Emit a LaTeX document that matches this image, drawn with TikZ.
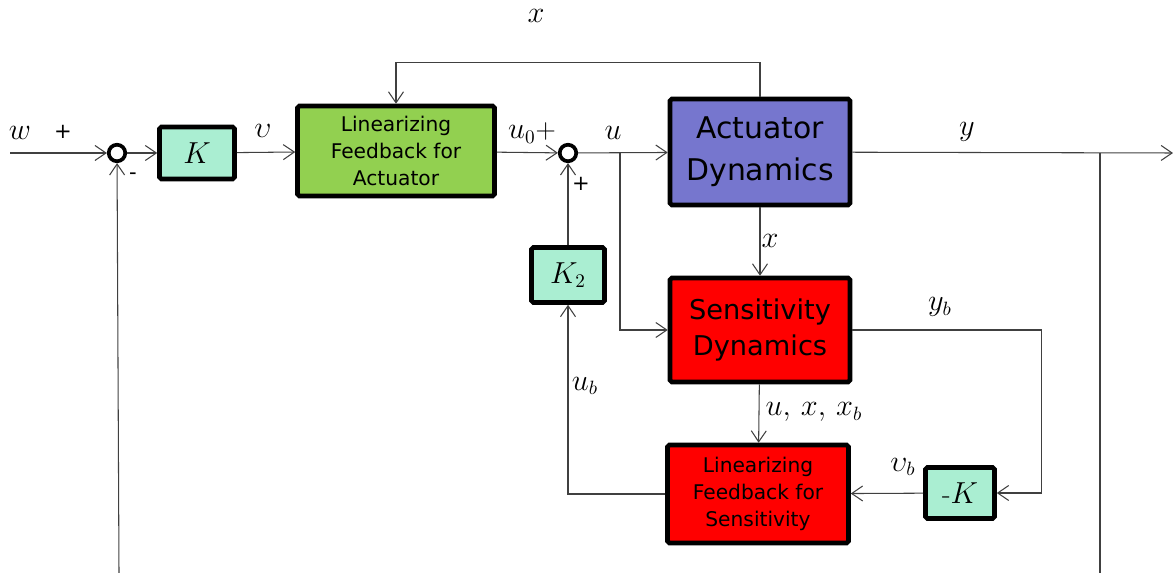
\documentclass[tikz,border=0pt]{standalone}
\usepackage{fontspec}
\setsansfont{DejaVu Sans}
\usetikzlibrary{arrows.meta}
\definecolor{gainc}{RGB}{170,238,210}
\definecolor{linc}{RGB}{146,208,80}
\definecolor{actc}{RGB}{118,118,206}
\definecolor{senc}{RGB}{255,0,0}
\begin{document}
\begin{tikzpicture}[x=0.02cm, y=-0.02cm, >={Straight Barb[length=2.2mm,width=3mm]},
  blk/.style={draw=black, line width=2.6pt, rounded corners=1pt, align=center, inner sep=0pt, font=\sffamily},
  sumj/.style={circle, draw, line width=2.1pt, minimum size=0.33cm, inner sep=0pt},
  lab/.style={font=\fontsize{16}{18}\selectfont, inner sep=1pt},
  sgn/.style={font=\sffamily\fontsize{12}{14}\selectfont, inner sep=1pt},
  wire/.style={draw=black!75, line width=0.6pt}]
  \useasboundingbox (0,0) rectangle (1173,573);
  % blocks
  \node[sumj] (s1) at (117,153) {};
  \node[blk, fill=gainc, minimum width=1.5cm, minimum height=1.04cm, font=\fontsize{16}{18}\selectfont] (k) at (197,153) {$K$};
  \node[blk, fill=linc, minimum width=3.94cm, minimum height=1.8cm, font=\sffamily\fontsize{11.5}{15.3}\selectfont] (lfa) at (396,151) {Linearizing\\Feedback for\\Actuator};
  \node[sumj] (s2) at (568,153) {};
  \node[blk, fill=actc, minimum width=3.6cm, minimum height=2.12cm, font=\sffamily\fontsize{17}{23.8}\selectfont] (act) at (760,152) {Actuator\\Dynamics};
  \node[blk, fill=senc, minimum width=3.6cm, minimum height=2.08cm, font=\sffamily\fontsize{15.5}{21}\selectfont] (sens) at (760,330) {Sensitivity\\Dynamics};
  \node[blk, fill=gainc, minimum width=1.46cm, minimum height=1.1cm, font=\fontsize{16}{18}\selectfont] (k2) at (568,275) {$K_2$};
  \node[blk, fill=senc, minimum width=3.62cm, minimum height=1.96cm, font=\sffamily\fontsize{11.5}{15.3}\selectfont] (lfs) at (758,494) {Linearizing\\Feedback for\\Sensitivity};
  \node[blk, fill=gainc, minimum width=1.38cm, minimum height=1.02cm, font=\fontsize{16}{18}\selectfont] (nk) at (960,493) {-$K$};
  % free ends
  \coordinate (win) at (10,153);
  \coordinate (yout) at (1173,153);
  \coordinate (ytap) at (1100,153);
  \coordinate (ybot) at (1100,573);
  \coordinate (fbot) at (119,573);
  \coordinate (utap) at (620,153);
  % connectors
  \draw[wire,->] (win) -- (s1);
  \draw[wire,->] (s1) -- (k);
  \draw[wire,->] (k) -- (lfa);
  \draw[wire,->] (lfa) -- (s2);
  \draw[wire,->] (s2) -- (act);
  \draw[wire,->] (act) -- (yout);
  \draw[wire] (ytap) -- (ybot);
  \draw[wire,->] (fbot) -- (s1);
  \draw[wire,->] (act.north) -- ++(0,-34) -| (lfa.north);
  \draw[wire,->] (act) -- (sens);
  \draw[wire,->] (utap) |- (sens.west);
  \draw[wire,->] (k2) -- (s2);
  \draw[wire,->] (sens.east) -- ++(189,0) |- (nk.east);
  \draw[wire,->] (nk) -- (lfs);
  \draw[wire,->] (sens) -- (lfs);
  \draw[wire,->] (lfs.west) -| (k2.south);
  % labels
  \node[lab] at (20,133) {$w$};
  \node[sgn] at (63,132) {+};
  \node[sgn] at (133,176) {-};
  \node[lab] at (263,131) {$\upsilon$};
  \node[lab] at (532,133) {$u_0$+};
  \node[sgn] at (581,184) {+};
  \node[lab] at (613,133) {$u$};
  \node[lab] at (967,132) {$y$};
  \node[lab] at (536,16) {$x$};
  \node[lab] at (770,241) {$x$};
  \node[lab] at (940,307) {$y_b$};
  \node[lab] at (903,467) {$\upsilon_b$};
  \node[lab] at (814,412) {$u,\,x,\,x_b$};
  \node[lab] at (585,386) {$u_b$};
\end{tikzpicture}
\end{document}
